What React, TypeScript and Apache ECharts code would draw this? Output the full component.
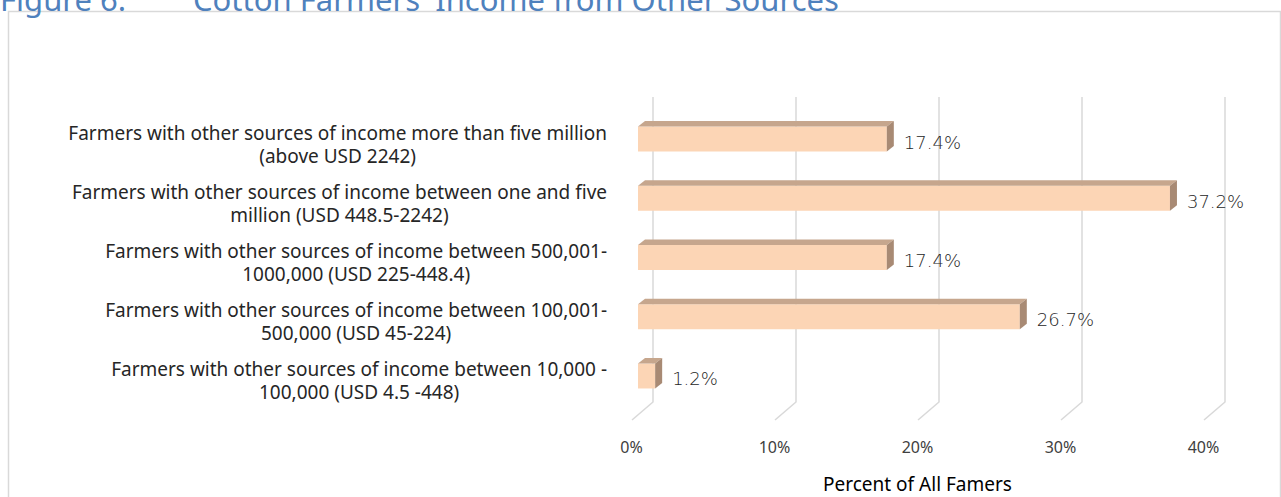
import React, { useEffect, useRef } from "react";
import * as echarts from "echarts";

const categories: string[] = [
  "Farmers with other sources of income more than five million\n(above USD 2242)",
  "Farmers with other sources of income between one and five\nmillion (USD 448.5-2242)",
  "Farmers with other sources of income between 500,001-\n1000,000 (USD 225-448.4)",
  "Farmers with other sources of income between 100,001-\n500,000 (USD 45-224)",
  "Farmers with other sources of income between 10,000 -\n100,000 (USD 4.5 -448)",
];
const shares: number[] = [17.4, 37.2, 17.4, 26.7, 1.2];
const xTicks: number[] = [0, 10, 20, 30, 40];
const titleLabel = "Figure 6:";
const titleText = "Cotton Farmers' Income from Other Sources";
const axisTitle = "Percent of All Famers";

const FONT = "'Noto Sans', sans-serif";
const VALUE_FONT = "'DejaVu Sans', sans-serif";

export default function App() {
  const ref = useRef<HTMLDivElement>(null);
  useEffect(() => {
    if (!ref.current) return;
    const chart = echarts.init(ref.current, null, { renderer: "svg" });
    const DX = 7;
    const DY = -5.5;
    const option: any = {
      animation: false,
      backgroundColor: "#ffffff",
      grid: {
        left: 631.5,
        right: 77.5,
        top: 114.4,
        bottom: 86.4,
        containLabel: false,
        outerBoundsMode: "none",
      },
      xAxis: {
        type: "value",
        min: 0,
        max: 40,
        interval: 10,
        axisLine: { show: false },
        axisTick: { show: false },
        splitLine: { show: false },
        axisLabel: {
          formatter: "{value}%",
          margin: 28,
          fontFamily: FONT,
          fontSize: 16,
          color: "#404040",
        },
        name: axisTitle,
        nameLocation: "middle",
        nameGap: 64,
        nameTextStyle: { fontFamily: FONT, fontSize: 19, color: "#000000" },
      },
      yAxis: {
        type: "category",
        inverse: true,
        data: categories,
        axisLine: { show: false },
        axisTick: { show: false },
        splitLine: { show: false },
        axisLabel: {
          margin: 24.5,
          align: "right",
          formatter: (v: string) =>
            v
              .split("\n")
              .map((l) => `{c|${l}}`)
              .join("\n"),
          rich: {
            c: {
              align: "center",
              fontFamily: FONT,
              fontSize: 19,
              lineHeight: 23,
              color: "#262626",
            },
          },
        },
      },
      graphic: [
        {
          type: "rect",
          silent: true,
          shape: { x: 8.5, y: 11.5, width: 1272, height: 520 },
          style: { fill: "none", stroke: "#d9d9d9", lineWidth: 1.5 },
          z: -10,
        },
        {
          type: "text",
          x: 0,
          y: 14,
          style: {
            text: titleLabel,
            fill: "#4f81bd",
            fontFamily: FONT,
            fontSize: 31,
            verticalAlign: "bottom",
          },
        },
        {
          type: "text",
          x: 193,
          y: 14,
          style: {
            text: titleText,
            fill: "#4f81bd",
            fontFamily: FONT,
            fontSize: 31,
            verticalAlign: "bottom",
          },
        },
      ],
      series: [
        {
          type: "custom",
          name: "gridlines",
          silent: true,
          z: 1,
          data: xTicks.map((t) => [t, 0]),
          renderItem: (params: any, api: any) => {
            const cs = params.coordSys;
            const x = api.coord([api.value(0), 0])[0];
            const top = cs.y - 17.4;
            const bottom = cs.y + cs.height;
            return {
              type: "polyline",
              shape: {
                points: [
                  [x + 21.5, top],
                  [x + 21.5, bottom - 8.6],
                  [x + 0.5, bottom + 9.4],
                ],
              },
              style: { stroke: "#d9d9d9", lineWidth: 1.5, fill: "none" },
            };
          },
        },
        {
          type: "custom",
          name: "Percent of All Famers",
          z: 2,
          data: shares.map((v, i) => [v, i]),
          renderItem: (params: any, api: any) => {
            const v = api.value(0);
            const idx = api.value(1);
            const p0 = api.coord([0, idx]);
            const p1 = api.coord([v, idx]);
            const yc = p1[1];
            const x0 = p0[0] + 6.5;
            const x1 = p1[0] + 6.5;
            const yT = yc - 17.5;
            const yB = yc + 7.5;
            return {
              type: "group",
              children: [
                {
                  type: "rect",
                  shape: { x: x0, y: yT, width: x1 - x0, height: yB - yT },
                  style: { fill: "#fcd5b5" },
                },
                {
                  type: "polygon",
                  shape: {
                    points: [
                      [x0, yT],
                      [x0 + DX, yT + DY],
                      [x1 + DX, yT + DY],
                      [x1, yT],
                    ],
                  },
                  style: { fill: "#c6a68d" },
                },
                {
                  type: "polygon",
                  shape: {
                    points: [
                      [x1, yT],
                      [x1 + DX, yT + DY],
                      [x1 + DX, yB + DY],
                      [x1, yB],
                    ],
                  },
                  style: { fill: "#a88a74" },
                },
                {
                  type: "text",
                  x: x1 + DX + 10,
                  y: yc - 2,
                  style: {
                    text: `${v}%`,
                    fill: "#262626",
                    fontFamily: VALUE_FONT,
                    fontWeight: 300,
                    fontSize: 18,
                    verticalAlign: "middle",
                    align: "left",
                  },
                },
              ],
            };
          },
        },
      ],
    };
    chart.setOption(option);
    return () => chart.dispose();
  }, []);
  return (
    <div
      ref={ref}
      style={{ position: "fixed", left: 0, top: 0, width: 1281, height: 497 }}
    />
  );
}
